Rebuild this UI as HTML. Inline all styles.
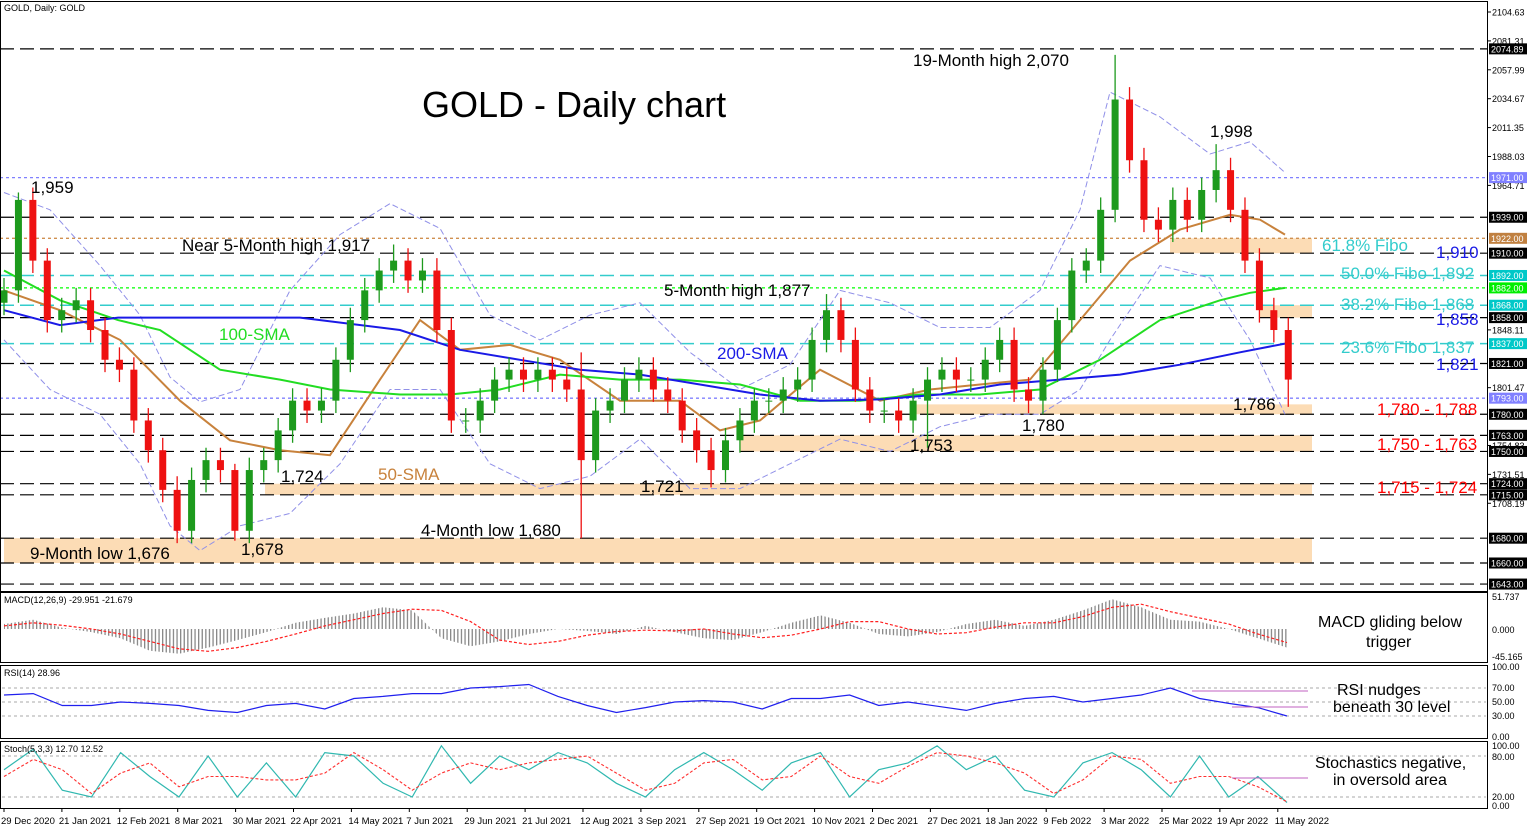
<!DOCTYPE html>
<html><head><meta charset="utf-8">
<style>
html,body{margin:0;padding:0;background:#fff;}
svg{display:block;font-family:"Liberation Sans",Arial,sans-serif;}
</style></head>
<body>
<svg id="c" width="1536" height="831" viewBox="0 0 1536 831" xmlns="http://www.w3.org/2000/svg">
<defs>
<pattern id="vbars" width="3.6" height="10" patternUnits="userSpaceOnUse"><rect x="0" y="0" width="1.3" height="10" fill="#888"/></pattern>
</defs>
<rect width="1536" height="831" fill="#fff"/>
<g id="zones"></g>
<g id="hlines"></g>
<g id="bands"></g>
<g id="smas"></g>
<g id="candles"></g>
<g id="ind"></g>
<g id="axes"></g>
<g id="notes"></g>
</svg>
<script>
// ---------- DATA ----------
const closes=[1880,1953,1904,1856,1864,1872,1848,1824,1816,1775,1751,1719,1686,1727,1743,1735,1686,1735,1743,1767,1791,1783,1791,1824,1856,1880,1896,1904,1888,1896,1848,1775,1775,1791,1808,1816,1808,1816,1808,1800,1743,1783,1791,1808,1816,1800,1791,1767,1751,1735,1759,1775,1791,1791,1800,1808,1840,1864,1840,1800,1783,1783,1775,1791,1808,1816,1808,1808,1824,1840,1800,1791,1816,1856,1896,1904,1945,2034,1985,1937,1929,1953,1937,1961,1977,1945,1904,1864,1848,1808];
const highIdx=[1,12,16,27,40,57,77,84];
const highVals=[1959,1730,1740,1917,1830,1877,2070,1998];
const lowIdx=[12,16,40,49,64,72,89];
const lowVals=[1676,1678,1680,1721,1753,1780,1786];
const sma50=[1880,1864,1840,1791,1759,1751,1747,1808,1856,1832,1836,1824,1791,1791,1767,1775,1816,1791,1800,1804,1808,1856,1904,1929,1941,1937,1925];
const sma50x=[4,60,120,180,230,280,330,380,420,460,510,560,620,680,720,760,820,880,930,980,1030,1080,1130,1180,1230,1260,1285];
const sma100=[1896,1872,1856,1848,1816,1808,1800,1796,1796,1800,1812,1808,1808,1804,1791,1791,1796,1796,1800,1824,1856,1872,1878,1882];
const sma100x=[4,60,118,160,220,280,330,400,450,500,560,620,680,740,800,860,920,980,1040,1100,1160,1220,1250,1285];
const sma200=[1864,1852,1858,1858,1858,1848,1832,1824,1816,1812,1804,1796,1791,1792,1796,1804,1808,1812,1820,1830,1837];
const sma200x=[4,60,118,200,300,400,460,520,580,640,700,760,820,880,940,1000,1060,1120,1180,1240,1285];
const bbUpper=[1959,1945,1900,1860,1810,1790,1800,1880,1925,1950,1930,1860,1840,1860,1870,1830,1800,1820,1880,1870,1850,1850,1880,1945,2040,2020,1990,2000,1975];
const bbLower=[1840,1800,1780,1740,1690,1670,1690,1700,1740,1800,1800,1740,1720,1730,1760,1720,1720,1740,1760,1750,1770,1780,1780,1800,1840,1900,1890,1840,1780];
const bbx=[4,50,100,140,170,200,240,290,340,390,440,490,540,590,640,690,740,790,840,890,940,990,1040,1080,1110,1160,1210,1250,1285];
const macd=[8,15,2,-5,-15,-35,-40,-30,-18,-5,10,18,25,35,30,-15,-28,-20,-8,0,-3,-8,5,-5,-15,-18,-5,10,22,10,-8,-12,-5,8,15,5,15,30,48,35,15,12,0,-15,-30];
const macdSignal=[5,10,6,0,-8,-20,-32,-36,-30,-20,-8,5,15,25,32,30,12,-18,-25,-20,-10,-4,-2,-3,0,-8,-14,-10,0,12,12,0,-8,-6,3,10,10,20,35,40,28,18,8,-8,-22];
const rsi=[60,62,45,45,50,48,45,38,35,45,48,40,55,58,62,62,70,72,75,58,45,35,42,50,52,50,40,55,55,60,45,50,44,38,48,55,58,50,55,60,70,55,48,42,30];
const stochK=[60,90,30,20,85,50,20,80,20,70,20,85,80,40,20,95,40,80,60,85,70,40,20,60,85,60,30,70,85,20,60,70,95,60,80,30,20,70,85,60,20,80,20,50,12];
const stochD=[50,75,60,25,55,70,35,50,50,45,45,55,85,60,30,55,70,60,70,75,80,55,30,40,70,75,45,50,80,50,40,65,85,80,70,55,25,45,80,75,40,50,50,35,13];
const dateLabels=["29 Dec 2020","21 Jan 2021","12 Feb 2021","8 Mar 2021","30 Mar 2021","22 Apr 2021","14 May 2021","7 Jun 2021","29 Jun 2021","21 Jul 2021","12 Aug 2021","3 Sep 2021","27 Sep 2021","19 Oct 2021","10 Nov 2021","2 Dec 2021","27 Dec 2021","18 Jan 2022","9 Feb 2022","3 Mar 2022","25 Mar 2022","19 Apr 2022","11 May 2022"];
const priceTicks=[2104.63,2081.31,2057.99,2034.67,2011.35,1988.03,1964.71,1848.11,1801.47,1754.83,1731.51,1708.19];
const levelLines=[2074.89,1939,1910,1858,1821,1780,1763,1750,1724,1715,1680,1660,1643];
const fiboLines=[1892,1868,1837];
// ---------- SCALES ----------
const NS="http://www.w3.org/2000/svg";
const yP=p=>12+(2104.63-p)*1.2392;
const xI=i=>4+i*14.43;
const xM=i=>4+i*29.16;
const yMacd=v=>629-v*0.619;
const yRsi=v=>667+(100-v)*0.7;
const ySto=v=>797-(v-20)*0.683;
function mk(par,tag,a,txt){const e=document.createElementNS(NS,tag);for(const k in a)e.setAttribute(k,a[k]);if(txt!==undefined)e.textContent=txt;document.getElementById(par).appendChild(e);return e;}
const X1=0,X2=1487;
[[1780,1788,910],[1750,1763,740],[1715,1724,265],[1660,1680,4],[1910,1922,1170],[1858,1868,1260]].forEach(z=>{
 const r=mk('zones','rect',{x:z[2],y:yP(z[1]),width:1312-z[2],height:yP(z[0])-yP(z[1]),fill:'#fcdcb5'});
 
 
});
levelLines.forEach(p=>{const l=mk('hlines','line',{x1:X1,x2:X2,y1:yP(p),y2:yP(p),stroke:'#000','stroke-width':1.2,'stroke-dasharray':'14 6'});
 
 });
fiboLines.forEach(p=>{const l=mk('hlines','line',{x1:X1,x2:X2,y1:yP(p),y2:yP(p),stroke:'#33cccc','stroke-width':1.5,'stroke-dasharray':'14 6'});
 
 });
[[1971,'#8080ff','3 3'],[1793,'#8080ff','3 3'],[1922,'#d09050','3 3'],[1882,'#00ff00','3 3']].forEach(s=>{
 const l=mk('hlines','line',{x1:X1,x2:X2,y1:yP(s[0]),y2:yP(s[0]),stroke:s[1],'stroke-width':1.3,'stroke-dasharray':s[2]});
 
 });
function path(xs,ys,yf){return xs.map((x,i)=>(i?'L':'M')+x.toFixed(1)+' '+yf(ys[i]).toFixed(1)).join(' ');}
[bbUpper,bbLower].forEach(arr=>{const p=mk('bands','path',{d:path(bbx,arr,yP),fill:'none',stroke:'#9090e8','stroke-width':1,'stroke-dasharray':'6 3'});
 
 });
[[sma50x,sma50,'#c8823c','sma-50'],[sma100x,sma100,'#22dd22','sma-100'],[sma200x,sma200,'#1a1ae6','sma-200']].forEach(s=>{
 const p=mk('smas','path',{d:path(s[0],s[1],yP),fill:'none',stroke:s[2],'stroke-width':2});
 
 });
closes.forEach((c,i)=>{
 const o=i?closes[i-1]:c-10;const up=c>=o;const col=up?'#1d9a1d':'#ee1111';
 const x=xI(i);let hi=Math.max(o,c)+10,lo=Math.min(o,c)-10;
 const hk=highIdx.indexOf(i);if(hk>=0)hi=highVals[hk];
 const lk=lowIdx.indexOf(i);if(lk>=0)lo=lowVals[lk];
 const g=mk('candles','g',{});
 
 
 const w=document.createElementNS(NS,'line');w.setAttribute('x1',x);w.setAttribute('x2',x);w.setAttribute('y1',yP(hi));w.setAttribute('y2',yP(lo));w.setAttribute('stroke',col);w.setAttribute('stroke-width',1.3);g.appendChild(w);
 const r=document.createElementNS(NS,'rect');r.setAttribute('x',x-3.5);r.setAttribute('width',7);r.setAttribute('y',yP(Math.max(o,c)));r.setAttribute('height',Math.max(1,Math.abs(yP(o)-yP(c))));r.setAttribute('fill',col);g.appendChild(r);
});
[[0,1,1487,590],[0,592,1487,70],[0,665,1487,73],[0,741,1487,67]].forEach(b=>{
 const r=mk('axes','rect',{x:b[0]+0.5,y:b[1]+0.5,width:b[2],height:b[3],fill:'none',stroke:'#000','stroke-width':1});
 
 });
// macd histogram as densely-barred area
const mx=macd.map((_,i)=>xM(i));
const hd='M'+mx[0]+' 629 '+mx.map((x,i)=>'L'+x.toFixed(1)+' '+yMacd(macd[i]).toFixed(1)).join(' ')+' L'+mx[mx.length-1]+' 629 Z';
const mh=mk('ind','path',{d:hd,fill:'url(#vbars)',stroke:'none'});


const ms=mk('ind','path',{d:path(mx,macdSignal,yMacd),fill:'none',stroke:'#ff2020','stroke-width':1.2,'stroke-dasharray':'3 2'});


[70,50,30].forEach(v=>{const l=mk('ind','line',{x1:2,x2:1486,y1:yRsi(v),y2:yRsi(v),stroke:'#aaa','stroke-dasharray':'3 3'});});
const rl=mk('ind','path',{d:path(mx,rsi,yRsi),fill:'none',stroke:'#2020ee','stroke-width':1.2});


mk('ind','line',{x1:1192,x2:1308,y1:691,y2:691,stroke:'#c060c0'});
mk('ind','line',{x1:1232,x2:1308,y1:707,y2:707,stroke:'#c060c0'});
[80,20].forEach(v=>{const l=mk('ind','line',{x1:2,x2:1486,y1:ySto(v),y2:ySto(v),stroke:'#aaa','stroke-dasharray':'3 3'});});
const sk=mk('ind','path',{d:path(mx,stochK,ySto),fill:'none',stroke:'#30b8b0','stroke-width':1.2});


const sd=mk('ind','path',{d:path(mx,stochD,ySto),fill:'none',stroke:'#ff3030','stroke-width':1.1,'stroke-dasharray':'3 2'});


mk('ind','line',{x1:1232,x2:1308,y1:778,y2:778,stroke:'#c060c0'});
dateLabels.forEach((d,i)=>{const x=4+i*57.9;
 mk('axes','line',{x1:x,x2:x,y1:808,y2:812,stroke:'#000'});
 const t=mk('axes','text',{x:x-3,y:824,'font-size':9.5,fill:'#000'},d);
 
 });
priceTicks.forEach(p=>{mk('axes','line',{x1:1487,x2:1491,y1:yP(p),y2:yP(p),stroke:'#000'});
 const t=mk('axes','text',{x:1492,y:yP(p)+3.5,'font-size':9,fill:'#000'},p.toFixed(2));
 
 });
[[2074.89,'#000'],[1971,'#8080ff'],[1939,'#000'],[1922,'#c08040'],[1910,'#000'],[1892,'#00c8c8'],[1882,'#00ee00'],[1868,'#00c8c8'],[1858,'#000'],[1837,'#00c8c8'],[1821,'#000'],[1793,'#8080ff'],[1780,'#000'],[1763,'#000'],[1750,'#000'],[1724,'#000'],[1715,'#000'],[1680,'#000'],[1660,'#000'],[1643,'#000']].forEach(b=>{
 const y=yP(b[0]);
 const r=mk('axes','rect',{x:1489,y:y-5.5,width:38,height:11,fill:b[1]});
 
 
 mk('axes','text',{x:1491,y:y+3.5,'font-size':9,fill:'#fff'},b[0].toFixed(2));
});
[[51.737,597],[0,630],[-45.165,657]].forEach(v=>mk('axes','text',{x:1492,y:v[1]+3,'font-size':9},v[0].toFixed(3)));
[[100,667],[70,688],[50,702],[30,716],[0,737]].forEach(v=>mk('axes','text',{x:1492,y:v[1]+3,'font-size':9},v[0].toFixed(2)));
[[100,746],[80,757],[20,797],[0,806]].forEach(v=>mk('axes','text',{x:1492,y:v[1]+3,'font-size':9},v[0].toFixed(2)));
</script>
<script>
const notes=[
 ["GOLD, Daily:  GOLD",4,11,9,"#000","chart-header"],
 ["GOLD - Daily chart",422,117,36,"#000","chart-title"],
 ["19-Month high 2,070",913,66,17,"#000","note-19m-high"],
 ["1,998",1210,137,17,"#000","note-1998"],
 ["1,959",31,193,17,"#000","note-1959"],
 ["Near 5-Month high 1,917",182,251,17,"#000","note-near-5m-high"],
 ["5-Month high 1,877",664,296,17,"#000","note-5m-high"],
 ["100-SMA",219,340,17,"#22dd22","label-100-sma"],
 ["200-SMA",717,359,17,"#1a1ae6","label-200-sma"],
 ["50-SMA",378,480,17,"#c8823c","label-50-sma"],
 ["1,724",281,482,17,"#000","note-1724"],
 ["1,721",641,492,17,"#000","note-1721"],
 ["4-Month low 1,680",421,536,17,"#000","note-4m-low"],
 ["9-Month low 1,676",30,559,17,"#000","note-9m-low"],
 ["1,678",241,555,17,"#000","note-1678"],
 ["1,753",910,451,17,"#000","note-1753"],
 ["1,780",1022,431,17,"#000","note-1780"],
 ["1,786",1233,410,17,"#000","note-1786"],
 ["61.8% Fibo",1322,251,17,"#33cccc","fibo-618"],
 ["1,910",1436,258,17,"#1a1ae6","level-1910"],
 ["50.0% Fibo 1,892",1341,279,17,"#33cccc","fibo-500"],
 ["38.2% Fibo 1,868",1341,310,17,"#33cccc","fibo-382"],
 ["1,858",1436,325,17,"#1a1ae6","level-1858"],
 ["23.6% Fibo 1,837",1341,353,17,"#33cccc","fibo-236"],
 ["1,821",1436,370,17,"#1a1ae6","level-1821"],
 ["1,780 - 1,788",1377,415,17,"#ff0000","zone-1780-1788"],
 ["1,750 - 1,763",1377,450,17,"#ff0000","zone-1750-1763"],
 ["1,715 - 1,724",1377,493,17,"#ff0000","zone-1715-1724"],
 ["MACD(12,26,9) -29.951 -21.679",4,603,9,"#000","macd-title"],
 ["MACD gliding below",1318,627,16,"#000","macd-note"],
 ["trigger",1366,647,16,"#000","macd-note-2"],
 ["RSI(14) 28.96",4,676,9,"#000","rsi-title"],
 ["RSI nudges",1337,695,16,"#000","rsi-note"],
 ["beneath 30 level",1333,712,16,"#000","rsi-note-2"],
 ["Stoch(5,3,3) 12.70 12.52",4,752,9,"#000","stoch-title"],
 ["Stochastics negative,",1315,768,16,"#000","stoch-note"],
 ["in oversold area",1333,785,16,"#000","stoch-note-2"]
];
const SV="http://www.w3.org/2000/svg";
notes.forEach(n=>{const t=document.createElementNS(SV,'text');
 t.setAttribute('x',n[1]);t.setAttribute('y',n[2]);t.setAttribute('font-size',n[3]);t.setAttribute('fill',n[4]);
 t.textContent=n[0];
 
 
 document.getElementById('notes').appendChild(t);});
</script>
</body></html>
